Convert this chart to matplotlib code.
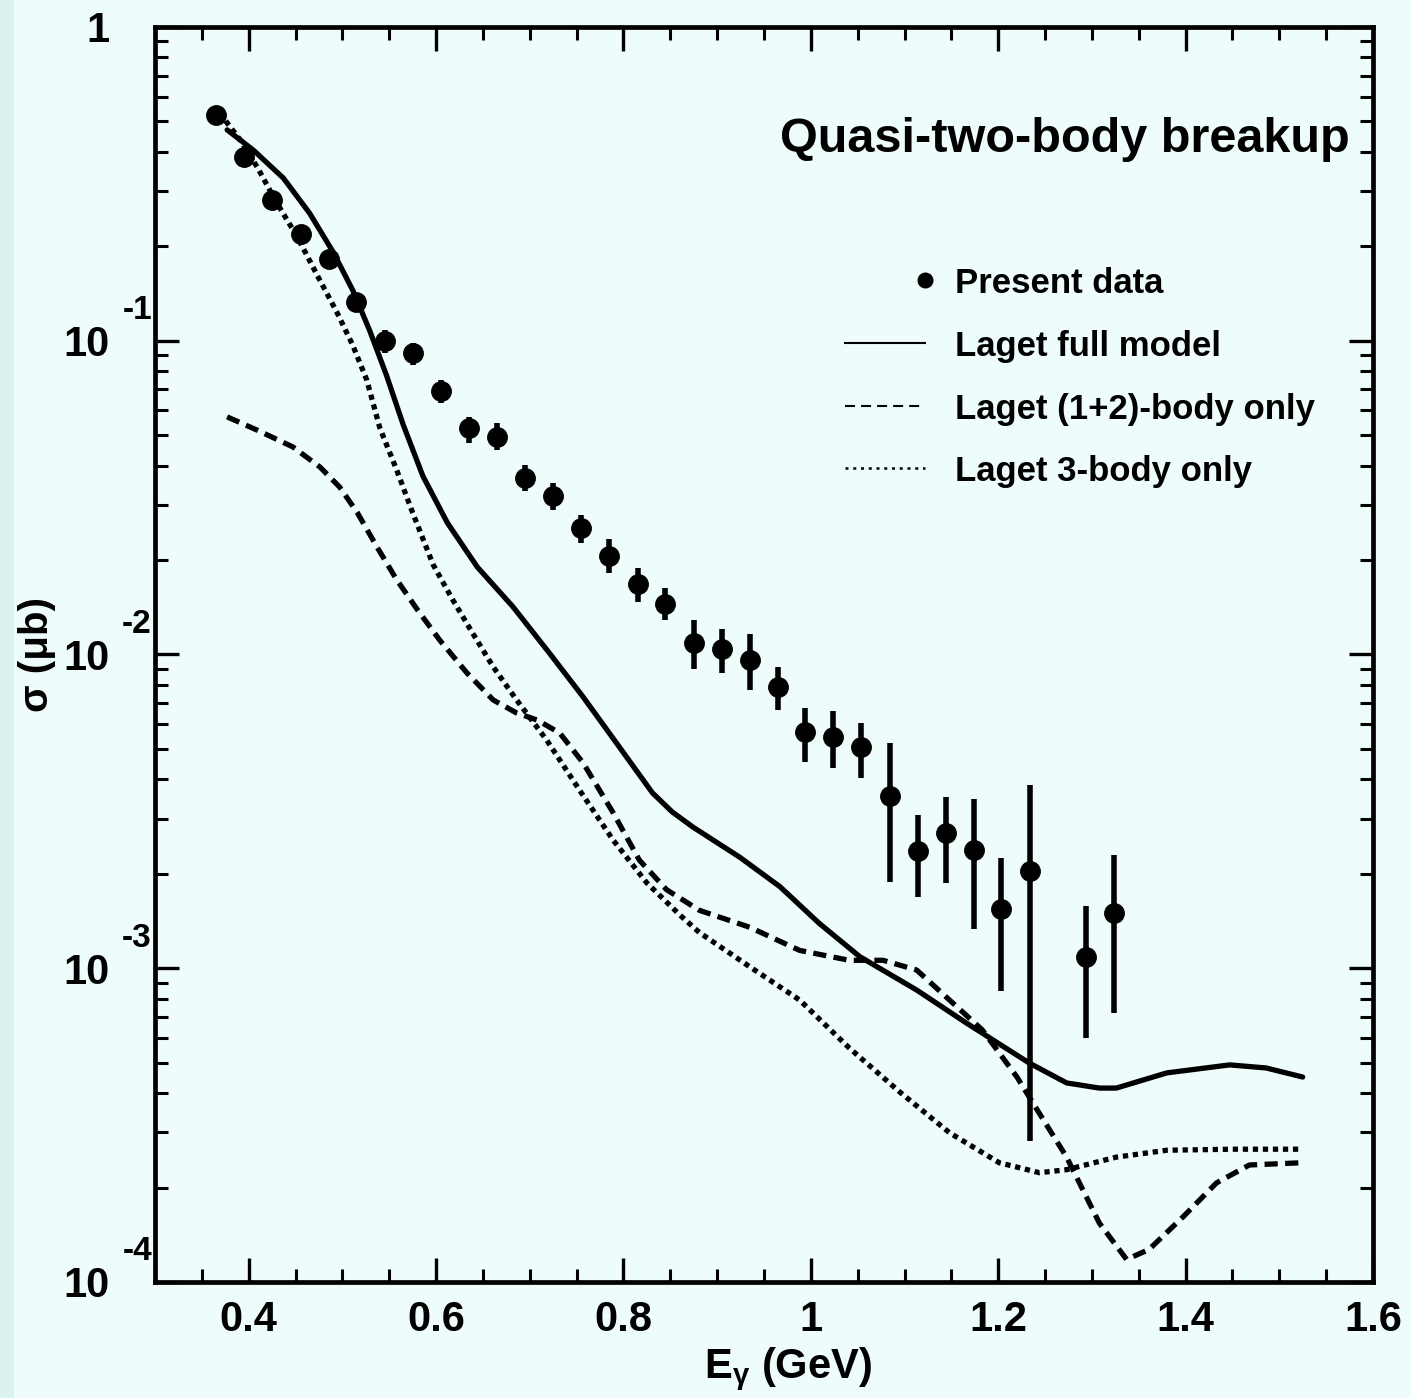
import matplotlib
matplotlib.use("Agg")
import matplotlib.pyplot as plt
from matplotlib.ticker import FixedLocator, LogLocator, NullFormatter, FuncFormatter, MultipleLocator
from matplotlib.patches import Rectangle
import numpy as np

plt.rcParams['font.family'] = ['Liberation Sans', 'DejaVu Sans']
plt.rcParams['font.weight'] = 'bold'
plt.rcParams['mathtext.fontset'] = 'custom'
plt.rcParams['mathtext.rm'] = 'Liberation Sans:bold'

BG = '#effcfc'

# ---- measured cross sections (present data) ----
e_data = [0.365, 0.395, 0.425, 0.456, 0.486, 0.514, 0.545, 0.575, 0.605, 0.635,
          0.665, 0.695, 0.725, 0.755, 0.785, 0.815, 0.844, 0.875, 0.905, 0.935,
          0.965, 0.994, 1.024, 1.054, 1.084, 1.114, 1.144, 1.174, 1.203, 1.234,
          1.294, 1.324]
sigma_data = [0.524, 0.385, 0.281, 0.219, 0.182, 0.133, 0.0998, 0.0914, 0.0692, 0.0527,
              0.0493, 0.0365, 0.0320, 0.0253, 0.0206, 0.0168, 0.0145, 0.01088, 0.01041, 0.00960,
              0.00788, 0.00566, 0.00546, 0.00507, 0.00354, 0.00236, 0.00270, 0.00238, 0.00154, 0.00204,
              0.001086, 0.00150]
sigma_lo = [0.494, 0.363, 0.265, 0.206, 0.172, 0.124, 0.0914, 0.0837, 0.0633, 0.0472,
            0.0448, 0.0332, 0.0289, 0.0227, 0.0182, 0.0147, 0.0129, 0.00899, 0.00873, 0.00771,
            0.00665, 0.00454, 0.00435, 0.00404, 0.00188, 0.00169, 0.00187, 0.00133, 0.000846, 0.000281,
            0.000599, 0.000720]
sigma_hi = [0.556, 0.408, 0.298, 0.232, 0.193, 0.142, 0.108, 0.0984, 0.0750, 0.0571,
            0.0547, 0.0402, 0.0352, 0.0278, 0.0233, 0.0189, 0.0163, 0.0129, 0.01206, 0.01162,
            0.00912, 0.00675, 0.00660, 0.00605, 0.00522, 0.00308, 0.00351, 0.00346, 0.00225, 0.00384,
            0.00158, 0.00230]

# ---- Laget full model ----
e_full = [0.377, 0.405, 0.437, 0.465, 0.490, 0.511, 0.529, 0.547, 0.565, 0.586,
          0.612, 0.644, 0.682, 0.721, 0.757, 0.794, 0.831, 0.852, 0.874, 0.924, 0.967,
          1.009, 1.052, 1.113, 1.166, 1.233, 1.273, 1.308, 1.326, 1.380, 1.447,
          1.486, 1.525]
sigma_full = [0.470, 0.405, 0.330, 0.255, 0.192, 0.145, 0.108, 0.0777, 0.0539, 0.0370,
              0.0263, 0.0190, 0.0142, 0.0101, 0.00732, 0.00515, 0.00362, 0.00315, 0.00282, 0.00226, 0.00182,
              0.00139, 0.00109, 0.000852, 0.000669, 0.000499, 0.000431, 0.000415, 0.000415, 0.000464, 0.000492,
              0.000481, 0.000450]

# ---- Laget (1+2)-body only ----
e_12 = [0.377, 0.409, 0.447, 0.476, 0.497, 0.516, 0.537, 0.558, 0.580, 0.604,
        0.633, 0.661, 0.686, 0.708, 0.732, 0.757, 0.789, 0.817, 0.846, 0.881,
        0.935, 0.988, 1.041, 1.077, 1.113, 1.148, 1.183, 1.220, 1.237, 1.273,
        1.308, 1.337, 1.361, 1.397, 1.433, 1.468, 1.525]
sigma_12 = [0.0572, 0.0519, 0.0459, 0.0396, 0.0342, 0.0283, 0.0220, 0.0173, 0.0139, 0.0111,
            0.00873, 0.00716, 0.00651, 0.00618, 0.00562, 0.00451, 0.00313, 0.00221, 0.00178, 0.00153,
            0.00135, 0.00114, 0.00106, 0.00106, 0.000987, 0.000792, 0.000636, 0.000450, 0.000372, 0.000250,
            0.000154, 0.000118, 0.000127, 0.000161, 0.000207, 0.000236, 0.000240]

# ---- Laget 3-body only ----
e_3b = [0.369, 0.391, 0.409, 0.430, 0.452, 0.473, 0.494, 0.511, 0.526, 0.540,
        0.558, 0.575, 0.597, 0.618, 0.639, 0.661, 0.686, 0.718, 0.753, 0.789,
        0.825, 0.860, 0.881, 0.935, 0.988, 1.041, 1.095, 1.148, 1.201, 1.244,
        1.273, 1.326, 1.380, 1.450, 1.525]
sigma_3b = [0.532, 0.436, 0.358, 0.275, 0.214, 0.162, 0.1235, 0.0969, 0.0750, 0.0527,
            0.0387, 0.0283, 0.0193, 0.0149, 0.0117, 0.00913, 0.00716, 0.00534, 0.00370, 0.00256,
            0.00187, 0.00148, 0.00130, 0.00101, 0.000792, 0.000557, 0.000403, 0.000299, 0.000240, 0.000223,
            0.000228, 0.000250, 0.000263, 0.000265, 0.000265]

legend_labels = ['Present data', 'Laget full model', 'Laget (1+2)-body only', 'Laget 3-body only']

fig = plt.figure(figsize=(14.11, 13.98), dpi=100, facecolor=BG)
fig.patches.append(Rectangle((0, 0), 14 / 1411, 1, transform=fig.transFigure,
                             facecolor='#dcf2f0', edgecolor='none', zorder=-10))
ax = fig.add_axes([0.10985, 0.08298, 0.86322, 0.89771])
ax.set_facecolor(BG)

LW = 3.8
ax.plot(e_full, sigma_full, color='black', lw=LW, solid_capstyle='round',
        solid_joinstyle='round', zorder=2)
ax.plot(e_12, sigma_12, color='black', lw=LW, linestyle=(0, (2.5, 1.4)), zorder=2)
ax.plot(e_3b, sigma_3b, color='black', lw=LW, linestyle=(0, (1.0, 0.9)), zorder=2)

s = np.array(sigma_data)
yerr = [s - np.array(sigma_lo), np.array(sigma_hi) - s]
ax.errorbar(e_data, sigma_data, yerr=yerr, fmt='o', color='black', ms=14,
            elinewidth=4, capsize=0, zorder=3)

ax.set_yscale('log')
ax.set_xlim(0.3, 1.6)
ax.set_ylim(1e-4, 1)

ax.xaxis.set_major_locator(FixedLocator([0.4, 0.6, 0.8, 1.0, 1.2, 1.4, 1.6]))
ax.xaxis.set_minor_locator(MultipleLocator(0.05))
ax.xaxis.set_major_formatter(FuncFormatter(lambda v, p: f'{v:g}'))
ax.yaxis.set_major_locator(FixedLocator([1e-4, 1e-3, 1e-2, 1e-1, 1]))
ax.yaxis.set_minor_locator(LogLocator(base=10, subs=np.arange(2, 10)))
ax.yaxis.set_minor_formatter(NullFormatter())
ax.yaxis.set_major_formatter(FuncFormatter(lambda v, p: '1' if v >= 1 else '10'))

ax.tick_params(which='both', direction='in', top=True, right=True, color='black')
ax.tick_params(which='major', length=17, width=2.4)
ax.tick_params(which='minor', length=9.5, width=2.2)
ax.tick_params(axis='x', which='major', labelsize=30, pad=13)
ax.tick_params(axis='y', which='major', labelsize=30, pad=33)
for sp in ax.spines.values():
    sp.set_linewidth(3.4)

# exponents of the y tick labels
for k in [1, 2, 3, 4]:
    ax.annotate(f'-{k}', xy=(0, 10.0 ** -k), xycoords=('axes fraction', 'data'),
                xytext=(-3, 30), textcoords='offset pixels',
                ha='right', va='center', fontsize=24)

fig.text(37 / 1411, 1 - 655 / 1398, 'σ (μb)', rotation=90, ha='center', va='center',
         fontsize=29)
fig.text(788 / 1411, 1 - 1378 / 1398, r'E$_{\mathregular{\gamma}}$ (GeV)', ha='center',
         va='baseline', fontsize=30)

ax.text(0.9811, 0.9004, 'Quasi-two-body breakup', transform=ax.transAxes,
        ha='right', va='baseline', fontsize=35)

# legend drawn by hand
rows = [0.7984, 0.7482, 0.6980, 0.6486]
hx0, hx1, tx = 0.5665, 0.6322, 0.6568
ax.plot([hx1], [rows[0]], 'o', color='black', ms=10.5, transform=ax.transAxes, clip_on=False)
ax.plot([hx0, hx1], [rows[1]] * 2, color='black', lw=1.5, transform=ax.transAxes)
ax.plot([hx0, hx1], [rows[2]] * 2, color='black', lw=1.5, linestyle=(0, (4.8, 2.9)),
        transform=ax.transAxes)
ax.plot([hx0, hx1], [rows[3]] * 2, color='black', lw=1.8, linestyle=(0, (1.2, 1.9)),
        transform=ax.transAxes)
for y, lab in zip(rows, legend_labels):
    ax.text(tx, y - 0.0105, lab, transform=ax.transAxes, ha='left', va='baseline',
            fontsize=25)

fig.savefig('out.png', dpi=100, facecolor=BG)
